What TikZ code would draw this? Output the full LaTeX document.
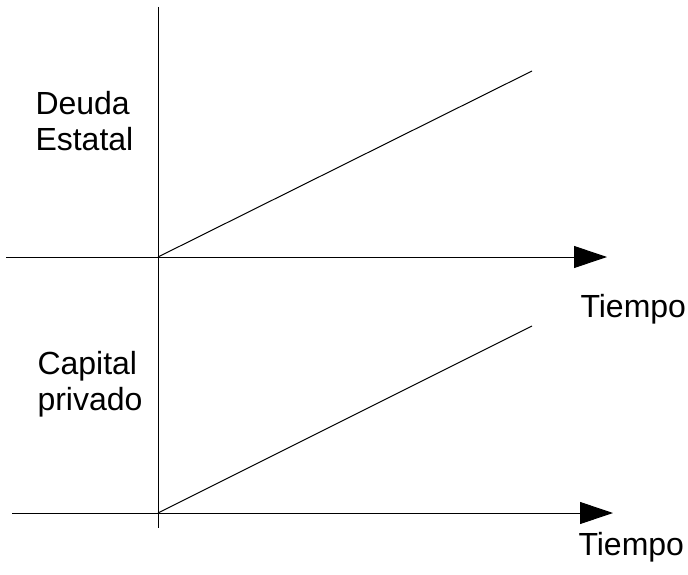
\documentclass[tikz,border=0pt]{standalone}
\usepackage{fontspec}
\setmainfont{Liberation Sans}
\usetikzlibrary{arrows.meta}

\begin{document}
\begin{tikzpicture}[x=0.75pt,y=-0.75pt,line width=0.75pt,
    axis/.style={-{Triangle[length=24.75pt,width=16.5pt]}},
    lbl/.style={anchor=base west,inner sep=0pt,align=left,font=\fontsize{24}{27}\selectfont}]
        \useasboundingbox (0,0) rectangle (688,574);
        % ejes
        \coordinate (top) at (158,7);
        \coordinate (bot) at (158,528);
        \coordinate (o1) at (158,257);
        \coordinate (o2) at (158,513);
        \coordinate (a1) at (6,257);
        \coordinate (b1) at (607,257);
        \coordinate (a2) at (12,513);
        \coordinate (b2) at (613,513);
        \coordinate (d1) at (532,71);
        \coordinate (d2) at (532,326);
        \draw[-](top)--(bot);
        \draw[axis](a1)--(b1);
        \draw[axis](a2)--(b2);
        \draw[-](o1)--(d1);
        \draw[-](o2)--(d2);

        % textos (base = ultima linea)
        \node[lbl](deuda)at(35,151){Deuda\\Estatal};
        \node[lbl](capital)at(37,410){Capital\\privado};
        \node[lbl](t1)at(580,317){Tiempo};
        \node[lbl](t2)at(578,555){Tiempo};
    \end{tikzpicture}
\end{document}
